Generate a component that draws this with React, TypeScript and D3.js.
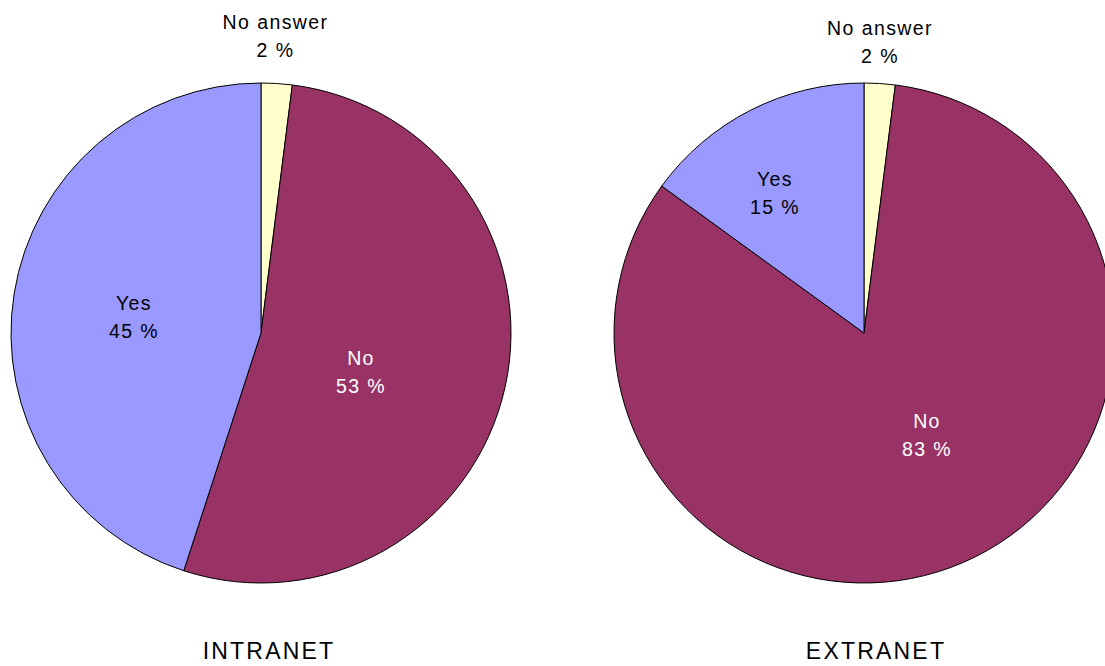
import React from "react";
import * as d3 from "d3";

const categories = ["No answer", "No", "Yes"];
const intranetValues = [2, 53, 45];
const extranetValues = [2, 83, 15];
const chartTitles = ["INTRANET", "EXTRANET"];
const colors = ["#FFFFCC", "#993366", "#9999FF"];
const textColors = ["#000000", "#FFFFFF", "#000000"];

// label offsets relative to pie center, as fractions of radius
const labelOffsets = [
  [[0.058, -1.19], [0.40, 0.156], [-0.508, -0.064]],
  [[0.064, -1.165], [0.252, 0.408], [-0.356, -0.56]],
];

const W = 1105;
const H = 666;
const R = 250;
const centers = [
  [261, 333],
  [864, 333],
];

export default function App() {
  const pie = d3.pie<number>().sort(null).value((d) => d);
  const arc = d3.arc<d3.PieArcDatum<number>>().innerRadius(0).outerRadius(R);
  const datasets = [intranetValues, extranetValues];
  const font = "'Liberation Sans', Arial, sans-serif";
  return (
    <svg
      width={W}
      height={H}
      style={{ position: "absolute", left: 0, top: 0, background: "#fff" }}
      fontFamily={font}
    >
      {datasets.map((vals, i) => {
        const arcs = pie(vals);
        const [cx, cy] = centers[i];
        return (
          <g key={i}>
            <g transform={`translate(${cx},${cy})`}>
              {arcs.map((a, j) => (
                <path
                  key={j}
                  d={arc(a) || ""}
                  fill={colors[j]}
                  stroke="#000"
                  strokeWidth={1}
                />
              ))}
              {arcs.map((a, j) => {
                const [fx, fy] = labelOffsets[i][j];
                const x = fx * R;
                const y = fy * R;
                return (
                  <text
                    key={"t" + j}
                    x={x}
                    y={y}
                    textAnchor="middle"
                    fontSize={19.5}
                    letterSpacing={1.4}
                    fill={textColors[j]}
                  >
                    <tspan x={x} dy={-7}>
                      {categories[j]}
                    </tspan>
                    <tspan x={x} dy={28}>
                      {vals[j]} %
                    </tspan>
                  </text>
                );
              })}
            </g>
            <text
              x={cx + (i === 0 ? 8 : 12)}
              y={659}
              textAnchor="middle"
              fontSize={23}
              letterSpacing={2.2}
              fill="#000"
            >
              {chartTitles[i]}
            </text>
          </g>
        );
      })}
    </svg>
  );
}
